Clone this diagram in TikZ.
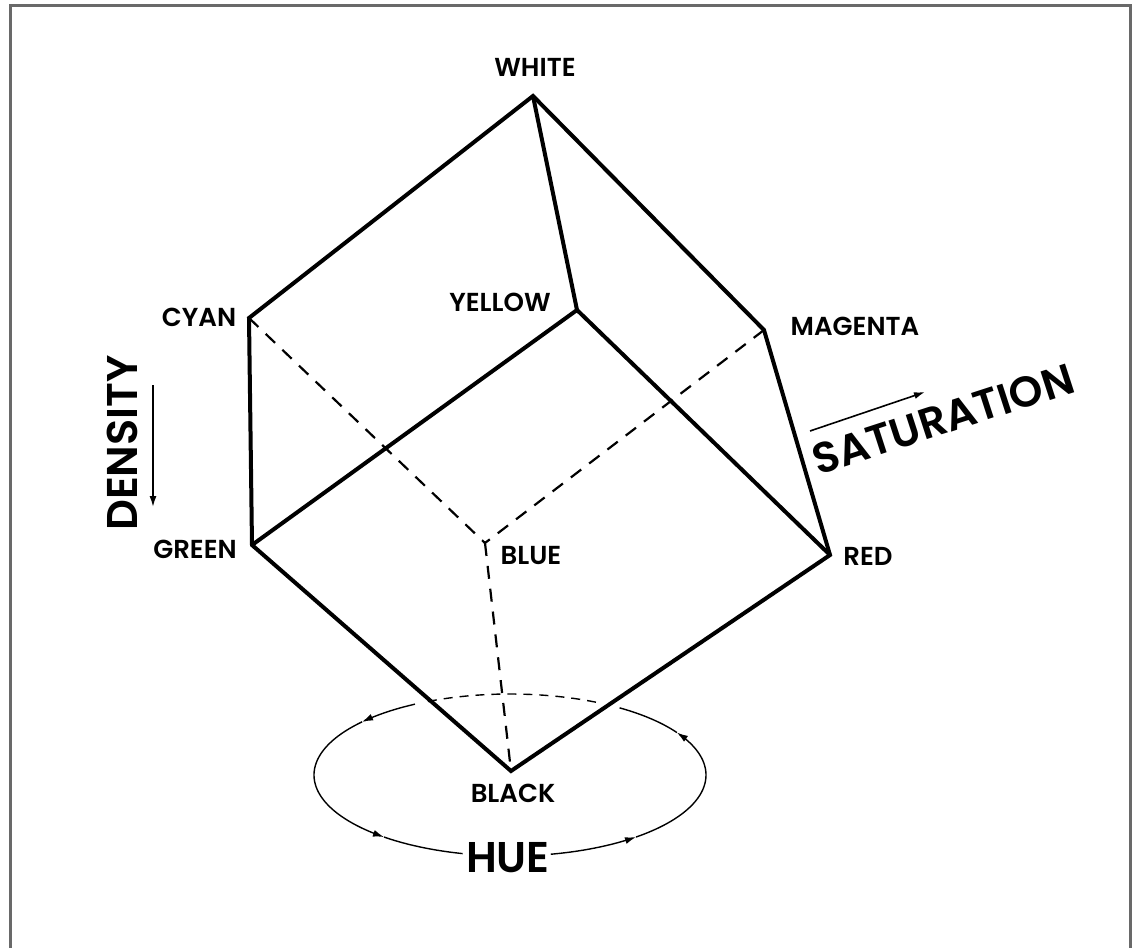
\documentclass[tikz,border=0pt]{standalone}
\usepackage{fontspec}
\setmainfont{Poppins}
\newfontfamily\labelfont{Poppins SemiBold}
\usetikzlibrary{arrows.meta}
\definecolor{framegray}{RGB}{105,105,105}
\begin{document}
\begin{tikzpicture}[x=1pt,y=-1pt,
  edge/.style={line width=4pt,line join=miter,line cap=butt},
  hidden/.style={line width=2.2pt,dash pattern=on 13pt off 10pt},
  thinarc/.style={line width=1.4pt},
  lbl/.style={font=\labelfont\fontsize{26}{26}\selectfont,inner sep=0pt,anchor=center},
  big/.style={font=\labelfont\fontsize{43}{43}\selectfont,inner sep=0pt,anchor=center},
  tip/.style={-{Latex[length=11pt,width=7pt]}},
]
\useasboundingbox (0,0) rectangle (1136,948);
\fill[white] (0,0) rectangle (1136,948);
\draw[framegray,line width=3pt] (10,948) -- (10,5.5) -- (1130,5.5) -- (1130,948);

% vertices
\coordinate (W) at (533,96);
\coordinate (C) at (249,318);
\coordinate (Y) at (577,310);
\coordinate (M) at (764,330);
\coordinate (G) at (252,545);
\coordinate (B) at (485,543);
\coordinate (R) at (830,555);
\coordinate (K) at (511,771);

% hidden edges
\draw[hidden] (C) -- (B);
\draw[hidden] (M) -- (B);
\draw[hidden] (B) -- (K);

% visible edges
\draw[edge] (W) -- (C) -- (G) -- (K) -- (R) -- (M) -- cycle;
\draw[edge] (W) -- (Y);
\draw[edge] (G) -- (Y) -- (R);

% hue ellipse
\draw[thinarc,dash pattern=on 9pt off 7pt] plot[domain=64:115,samples=40] ({510+196*cos(\x)},{775-81*sin(\x)});
\draw[thinarc,tip] plot[domain=119:139,samples=20] ({510+196*cos(\x)},{775-81*sin(\x)});
\draw[thinarc,tip] plot[domain=139:230,samples=60] ({510+196*cos(\x)},{775-81*sin(\x)});
\draw[thinarc] plot[domain=230:256,samples=20] ({510+196*cos(\x)},{775-81*sin(\x)});
\draw[thinarc,tip] plot[domain=282:310,samples=20] ({510+196*cos(\x)},{775-81*sin(\x)});
\draw[thinarc,tip] plot[domain=310:391.6,samples=60] ({510+196*cos(\x)},{775-81*sin(\x)});
\draw[thinarc] plot[domain=391.6:416,samples=20] ({510+196*cos(\x)},{775-81*sin(\x)});

% labels
\node[lbl] (lW) at (535,67) {WHITE};
\node[lbl] (lY) at (500,302) {YELLOW};
\node[lbl] (lM) at (855,326) {MAGENTA};
\node[lbl] (lC) at (199,317) {CYAN};
\node[lbl] (lG) at (195,549) {GREEN};
\node[lbl] (lB) at (531,555) {BLUE};
\node[lbl] (lR) at (868,556) {RED};
\node[lbl] (lK) at (513,793) {BLACK};

\node[big,rotate=90] (density) at (122,443) {DENSITY};
\coordinate (d1) at (153,385);
\coordinate (d2) at (153,507);
\draw[line width=1.6pt,tip] (d1) -- (d2);

\node[big,rotate=18] (sat) at (943,419) {SATURATION};
\coordinate (s1) at (810,431);
\coordinate (s2) at (925,392);
\draw[line width=1.6pt,tip] (s1) -- (s2);

\node[big] (hue) at (508,858) {HUE};
\end{tikzpicture}
\end{document}
